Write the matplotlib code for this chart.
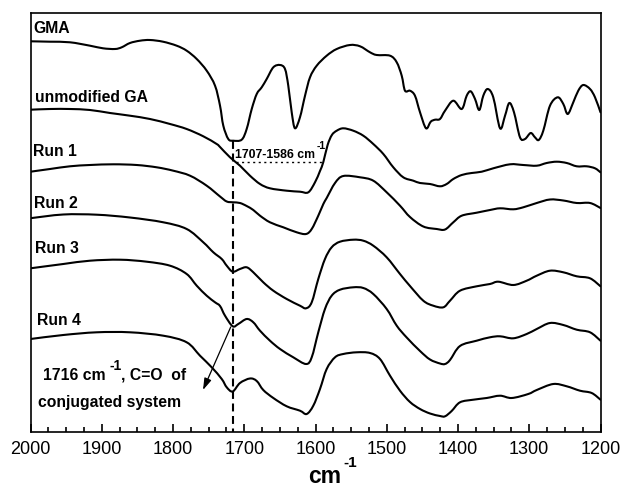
import matplotlib
matplotlib.use("Agg")
import matplotlib.pyplot as plt
from matplotlib.ticker import MultipleLocator
from matplotlib.path import Path
from matplotlib.patches import PathPatch

plt.rcParams['font.family'] = ['Liberation Sans', 'DejaVu Sans']

# ---- data: wavenumber (cm-1) and offset signal (stacked, arbitrary units, top = small) ----
gma_wn = [2000, 1972.6, 1944.6, 1916.5, 1898.2, 1881.4, 1872, 1860.4, 1846.3, 1832.3, 1814, 1794.8,
          1780.8, 1766.7, 1752.7, 1741, 1734, 1729.4, 1722.4, 1715.4, 1703.6, 1696.6, 1689.5, 1682.5,
          1675.5, 1668.5, 1659.2, 1649.8, 1642.8, 1638.2, 1633.4, 1628.8, 1621.8, 1614.7, 1607.7,
          1598.3, 1584.3, 1570.2, 1551.6, 1537.5, 1523.5, 1514.1, 1495.4, 1486, 1479, 1474.4, 1467.4,
          1460.4, 1453.3, 1444.9, 1438.3, 1432.3, 1425.3, 1418.2, 1406.6, 1394.8, 1387.8, 1382.2,
          1376.1, 1370.1, 1364.5, 1358.3, 1350.5, 1341, 1334, 1328, 1321.4, 1313, 1306, 1298, 1292,
          1286.7, 1280.3, 1270.9, 1260, 1252.2, 1246, 1238.2, 1231.2, 1224.2, 1214.7, 1207.7, 1200]
gma_y = [42.3, 42.7, 43.3, 46.7, 49.3, 50, 48.3, 44, 41.7, 41, 42.7, 46.7, 51.7, 60, 71.7, 86.7, 106.7,
         126.7, 140, 141.7, 140.7, 130, 110, 95, 88.3, 80, 68.3, 66, 70, 86.7, 113.3, 129.3, 118.3, 96.7,
         78.3, 66.7, 56.7, 50, 46, 47.3, 53.3, 56, 56.7, 63.3, 76.7, 91.7, 91.7, 96.7, 113.3, 129.3,
         122.7, 120.7, 120, 111.7, 101.7, 110, 96.7, 92.3, 100, 111, 96.7, 90, 98.3, 129.3, 116.7, 104,
         113.3, 138.3, 140, 134, 138.3, 141, 131.7, 106.7, 98.3, 105, 115, 103.3, 91.7, 86, 90, 98.3, 113.3]

ga_wn = [2000, 1972.6, 1944.6, 1916.5, 1888.4, 1860.4, 1832.3, 1804.2, 1780.8, 1757.5, 1738.7, 1734,
         1720, 1706, 1692, 1677.9, 1663.9, 1640.4, 1621.8, 1610.1, 1600.7, 1593.7, 1589, 1583, 1577,
         1570.2, 1561, 1547, 1532.9, 1518.9, 1504.8, 1490.8, 1476.8, 1462.7, 1453.3, 1439.3, 1425.3,
         1415.9, 1406.6, 1394.8, 1380.8, 1366.7, 1350.5, 1327, 1308.4, 1289.5, 1275.5, 1261.5, 1247.4,
         1233.4, 1219.4, 1207.7, 1200]
ga_y = [110.7, 110, 110, 111, 114, 116.7, 120, 125, 130, 137.3, 145, 148, 158.3, 166.7, 176.7, 185, 189.3,
        191.7, 192.7, 193.3, 183.3, 172, 163, 146, 136, 131.7, 129.3, 131.7, 136.7, 145, 155, 168.3,
        178.3, 181.7, 184, 185, 187.3, 185, 180, 176, 174, 172.7, 169.3, 165.3, 166, 166.7, 164, 162.7,
        164, 167.3, 167.3, 169.3, 173.3]

run1_wn = [2000, 1972.6, 1944.6, 1916.5, 1883.8, 1851, 1822.9, 1799.6, 1776.1, 1752.7, 1734, 1724.6,
           1715.4, 1706, 1696.6, 1687.3, 1677.9, 1663.9, 1645.2, 1626.4, 1613.3, 1605.3, 1596.1, 1589,
           1584.3, 1572.6, 1561, 1537.5, 1518.9, 1500.1, 1481.4, 1467.4, 1448.7, 1429.9, 1418.2, 1406.6,
           1394.8, 1373.8, 1355.1, 1341, 1322.4, 1308.4, 1289.5, 1270.9, 1252.2, 1233.4, 1214.7, 1200]
run1_y = [172.7, 170, 167.3, 166, 165.3, 166, 168.3, 171.7, 176.7, 186.7, 197.5, 202.5, 203.3, 204, 207,
          211, 216.7, 223.3, 228.3, 233.3, 235, 230, 216.7, 205, 199, 184, 177, 178.3, 181.7, 193.3, 206.7,
          218, 227.5, 230, 230.5, 223.3, 216.7, 213.7, 211, 209.3, 210.3, 208.3, 204, 200.5, 201.5, 204,
          204, 209]

run2_wn = [2000, 1954, 1907.1, 1860.4, 1813.6, 1780.8, 1757.5, 1743.4, 1731.6, 1724.6, 1716.2, 1706,
           1696.6, 1687.3, 1673.3, 1659.2, 1640.4, 1621.8, 1613.3, 1605.3, 1596.1, 1586.7, 1577.3, 1565.6,
           1547, 1532.9, 1518.9, 1500.1, 1481.4, 1467.4, 1448.7, 1434.7, 1420.6, 1411.2, 1397.2, 1373.8,
           1355.1, 1343.4, 1322.4, 1303.6, 1289.5, 1270.9, 1252.2, 1233.4, 1214.7, 1200]
run2_y = [219.2, 215.5, 215.7, 218.5, 223.3, 230, 243.3, 253.3, 260, 266.7, 272.7, 270, 268.3, 273.3,
          283.3, 291.7, 300, 306.7, 309.3, 303.3, 280, 260, 248.3, 242.7, 240.7, 241.7, 246.7, 258.3, 275,
          287, 301.7, 306.7, 308.3, 301.7, 291.7, 287.3, 285, 282.7, 286, 281.7, 276.7, 271.7, 273.3,
          277.3, 279.3, 287.3]

run3_wn = [2000, 1954, 1916.5, 1874.4, 1836.9, 1804.2, 1780.8, 1766.7, 1752.7, 1741, 1734, 1727, 1716.2,
           1708.4, 1696.6, 1687.3, 1677.9, 1663.9, 1649.8, 1631.2, 1613.3, 1605.3, 1596.1, 1586.7, 1577.3,
           1565.6, 1547, 1532.9, 1518.9, 1500.1, 1486, 1472, 1453.3, 1439.3, 1425.3, 1418.2, 1411.2,
           1397.2, 1373.8, 1355.1, 1341, 1322.4, 1303.6, 1289.5, 1270.9, 1252.2, 1233.4, 1214.7, 1200]
run3_y = [269.3, 265, 261.7, 260.7, 262.7, 266.7, 275, 286.7, 296.7, 303.3, 307, 316.7, 327.3, 325, 320,
          323.3, 331.7, 341.7, 350, 358.3, 365, 358.3, 333.3, 310, 296.7, 290.7, 288.3, 289, 295, 310,
          326.7, 338.5, 352, 360.5, 364.5, 365, 361, 347, 341.7, 338.3, 337.3, 339.3, 335, 330, 324, 326,
          330.7, 333.3, 341.7]

run4_wn = [2000, 1954, 1907.1, 1860.4, 1813.6, 1780.8, 1762.1, 1745.7, 1731.6, 1724.6, 1716.2, 1706, 1692,
           1682.5, 1673.3, 1659.2, 1640.4, 1621.8, 1612.4, 1603.1, 1593.7, 1584.3, 1572.6, 1561, 1542.2,
           1523.5, 1509.5, 1495.4, 1481.4, 1467.4, 1453.3, 1439.3, 1425.3, 1418.2, 1408.9, 1397.2, 1378.5,
           1359.7, 1341, 1324.6, 1301.4, 1289.5, 1266.3, 1247.4, 1228.8, 1212.4, 1200]
run4_y = [340, 336, 333.3, 333.3, 336.7, 343.3, 356.7, 368.3, 380, 388.3, 392.5, 384, 379.5, 382, 391, 399,
          407.3, 411.7, 415, 406.7, 390, 370, 358.3, 355, 353.3, 354, 360, 376.7, 391.7, 403, 410, 414.5,
          417, 417.3, 412, 403.3, 400.7, 399, 396.7, 399, 395, 391, 385, 387.3, 391.7, 394, 400.7]

series = [(gma_wn, gma_y), (ga_wn, ga_y), (run1_wn, run1_y), (run2_wn, run2_y),
          (run3_wn, run3_y), (run4_wn, run4_y)]
curve_labels = ["GMA", "unmodified GA", "Run 1", "Run 2", "Run 3", "Run 4"]
label_pos = [(1996.5, 33), (1993.7, 102), (1996.5, 156), (1995, 208.3), (1993.7, 253.3), (1991, 325)]

x_ticks = [2000, 1900, 1800, 1700, 1600, 1500, 1400, 1300, 1200]
peak_wn = 1716
band_start, band_end = 1712, 1588


def smooth_path(xs, ys):
    """Smooth (Catmull-Rom as cubic Bezier) path through the given data points."""
    pts = list(zip(xs, ys))
    n = len(pts)
    verts = [pts[0]]
    codes = [Path.MOVETO]
    for i in range(n - 1):
        p0 = pts[i - 1] if i > 0 else pts[i]
        p1 = pts[i]
        p2 = pts[i + 1]
        p3 = pts[i + 2] if i + 2 < n else pts[i + 1]
        c1 = (p1[0] + (p2[0] - p0[0]) / 6.0, p1[1] + (p2[1] - p0[1]) / 6.0)
        c2 = (p2[0] - (p3[0] - p1[0]) / 6.0, p2[1] - (p3[1] - p1[1]) / 6.0)
        verts += [c1, c2, p2]
        codes += [Path.CURVE4, Path.CURVE4, Path.CURVE4]
    return Path(verts, codes)


# ---- figure ----
W, H = 620, 489
fig = plt.figure(figsize=(W / 100, H / 100), dpi=100)
ax = fig.add_axes([30.5 / W, (H - 433) / H, 570 / W, 419 / H])

for (wn, y) in series:
    ax.add_patch(PathPatch(smooth_path(wn, y), facecolor='none', edgecolor='black', lw=1.5,
                           joinstyle='round', capstyle='round'))

LBL = 11.3
for lab, (lx, ly) in zip(curve_labels, label_pos):
    ax.text(lx, ly, lab, fontsize=LBL, fontweight='bold', ha='left', va='baseline')

# dashed vertical line at 1716
ax.plot([peak_wn, peak_wn], [142, 433], color='black', lw=1.5, ls=(0, (3.8, 2.2)))
# dotted band line
ax.plot([band_start, band_end], [163.3, 163.3], color='black', lw=1.0, ls=(0, (1.5, 2.5)))
t_band = ax.text(1713, 158.3, "1707-1586 cm", fontsize=8.8, fontweight='bold', ha='left', va='baseline')
ax.annotate("-1", xy=(1, 149), xycoords=(t_band, 'data'), xytext=(1.5, 0), textcoords='offset points',
            fontsize=7.5, fontweight='bold', ha='left', va='baseline')

# arrow annotation
ax.annotate("", xy=(1757.9, 391), xytext=(1719, 328),
            arrowprops=dict(arrowstyle='-|>,head_length=0.7,head_width=0.22', color='black', lw=0.9,
                            shrinkA=0, shrinkB=0))
t_main = ax.text(1982.5, 380, "1716 cm", fontsize=LBL, fontweight='bold', ha='left', va='baseline')
t_sup = ax.annotate("-1", xy=(1, 370), xycoords=(t_main, 'data'), xytext=(2.5, 0),
                    textcoords='offset points', fontsize=10, fontweight='bold', ha='left', va='baseline')
ax.annotate(", C=O  of", xy=(1, 380), xycoords=(t_sup, 'data'), xytext=(0, 0), textcoords='offset points',
            fontsize=LBL, fontweight='bold', ha='left', va='baseline')
ax.text(1989.5, 407, "conjugated system", fontsize=LBL, fontweight='bold', ha='left', va='baseline')

ax.set_xlim(2000, 1200)
ax.set_ylim(433, 14)
ax.set_xticks(x_ticks)
ax.set_xticklabels([str(t) for t in x_ticks])
ax.xaxis.set_minor_locator(MultipleLocator(25))
ax.set_yticks([])
ax.tick_params(axis='x', which='both', direction='in', top=False, bottom=True, labelsize=13, pad=6,
               width=1.2)
ax.tick_params(axis='x', which='major', length=6)
ax.tick_params(axis='x', which='minor', length=3.5)
for s in ax.spines.values():
    s.set_linewidth(1.2)

# x-axis unit label
t_cm = fig.text(308 / W, (H - 483) / H, "cm", fontsize=16.5, fontweight='bold', ha='left', va='baseline')
ax.annotate("-1", xy=(1, H - 467), xycoords=(t_cm, 'figure pixels'), xytext=(2, 0),
            textcoords='offset points', fontsize=11, fontweight='bold', ha='left', va='baseline',
            annotation_clip=False)

fig.savefig("out.png", dpi=100)
